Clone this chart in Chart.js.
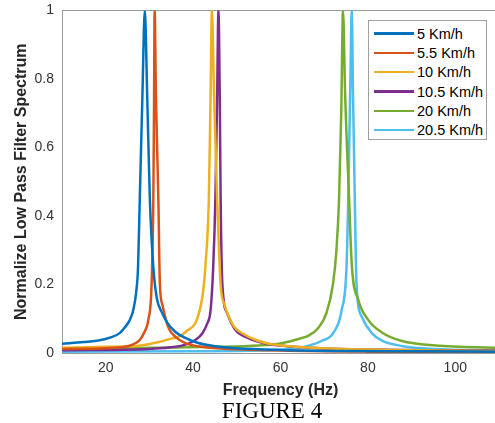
<!DOCTYPE html>
<html>
<head>
<meta charset="utf-8">
<script src="https://cdn.jsdelivr.net/npm/chart.js"></script>
<style>
    html, body { margin: 0; padding: 0; background: #fff; overflow: hidden; }
    #wrap { position: relative; width: 502px; height: 423px; }
    #chart-box { position: absolute; left: 0; top: -6px; width: 502px; height: 408px; }
    #legend {
        position: absolute; left: 368px; top: 20px; width: 119px; height: 120px;
        border: 1px solid #a0a0a0; background: #fff;
        font: 14.5px "Liberation Sans", Arial, sans-serif; color: #000;
        padding-top: 3px; box-sizing: border-box;
    }
    #legend .row { height: 19.3px; display: flex; align-items: center; }
    #legend .swatch { width: 40px; height: 2.5px; margin-left: 5px; margin-right: 3px; }
    #caption {
        position: absolute; left: 0; top: 397px; width: 544px; text-align: center;
        font: 23px "Liberation Serif", "Times New Roman", serif; color: #000; line-height: 27px;
    }
</style>
</head>
<body>
<div id="wrap">
    <div id="chart-box"><canvas id="spectrum-chart"></canvas></div>
    <div id="legend"></div>
    <div id="caption">FIGURE 4</div>
</div>
<script>
// speed labels
const labels = ['5 Km/h', '5.5 Km/h', '10 Km/h', '10.5 Km/h', '20 Km/h', '20.5 Km/h'];
const colors = ['#0072BD', '#D95319', '#EDB120', '#7E2F8E', '#77AC30', '#4DBEEE'];

// frequency (Hz) / normalized spectrum
const freq5 = [10, 15, 18, 21, 23.2, 24.4, 25.5, 26.3, 27, 27.4, 27.8, 28.4, 28.95, 29.5, 30.1, 30.9, 31.7, 32.8, 34, 35.9, 38.2, 41, 45, 50, 60, 75, 90, 110];
const spec5 = [0.027, 0.032, 0.036, 0.045, 0.058, 0.075, 0.096, 0.125, 0.18, 0.25, 0.45, 0.75, 1.0, 0.75, 0.45, 0.25, 0.16, 0.12, 0.09, 0.062, 0.044, 0.03, 0.02, 0.014, 0.009, 0.006, 0.005, 0.004];

const freq55 = [10, 20, 24.4, 26, 27.8, 29, 29.75, 30.5, 30.9, 31.05, 31.2, 31.5, 32.05, 32.4, 33, 33.6, 34.5, 35.9, 38.2, 42, 50, 60, 80, 110];
const spec55 = [0.012, 0.014, 0.018, 0.024, 0.038, 0.065, 0.096, 0.2, 0.45, 0.7, 1.0, 0.75, 0.45, 0.2, 0.14, 0.106, 0.07, 0.048, 0.029, 0.018, 0.011, 0.007, 0.004, 0.003];

const freq10 = [10, 20, 28, 32.4, 35, 37.1, 38.6, 40.5, 41.7, 42.3, 42.8, 43.6, 44, 44.3, 44.8, 45.5, 46.3, 47.2, 48.2, 49.5, 51.3, 54.4, 57.1, 62, 70, 85, 110];
const spec10 = [0.015, 0.018, 0.022, 0.033, 0.042, 0.05, 0.065, 0.087, 0.135, 0.18, 0.25, 0.45, 0.75, 1.0, 0.75, 0.45, 0.2, 0.14, 0.106, 0.075, 0.057, 0.038, 0.028, 0.02, 0.014, 0.009, 0.006];

const freq105 = [10, 30, 36, 38.6, 40.5, 42.1, 43.2, 44, 44.6, 45.1, 45.5, 45.8, 46.1, 46.3, 46.7, 47.8, 49.7, 52.4, 54.4, 57.1, 63.2, 70, 80, 95, 110];
const spec105 = [0.008, 0.012, 0.018, 0.026, 0.038, 0.057, 0.085, 0.125, 0.25, 0.45, 0.75, 1.0, 0.75, 0.45, 0.2, 0.116, 0.067, 0.045, 0.035, 0.026, 0.018, 0.013, 0.01, 0.008, 0.007];

const freq20 = [10, 30, 45, 55, 60, 64.7, 66.3, 68.6, 70.5, 72, 72.8, 73.4, 73.9, 74.3, 74.8, 75.7, 76.3, 77.8, 80.1, 83.2, 87.8, 95.5, 110];
const spec20 = [0.012, 0.015, 0.018, 0.022, 0.028, 0.043, 0.05, 0.072, 0.116, 0.2, 0.3, 0.45, 0.7, 1.0, 0.75, 0.45, 0.26, 0.155, 0.096, 0.06, 0.035, 0.022, 0.015];

const freq205 = [10, 40, 55, 62, 66, 69.35, 72.05, 74, 75.1, 75.5, 76, 76.3, 76.6, 77, 77.4, 78.6, 80.9, 83.2, 88, 95, 110];
const spec205 = [0.004, 0.005, 0.007, 0.012, 0.02, 0.035, 0.058, 0.125, 0.25, 0.45, 0.8, 1.0, 0.75, 0.45, 0.2, 0.106, 0.058, 0.036, 0.02, 0.012, 0.008];

const xTicks = [20, 40, 60, 80, 100];
const yTicks = [0, 0.2, 0.4, 0.6, 0.8, 1];

const series = [
    [freq5, spec5], [freq55, spec55], [freq10, spec10],
    [freq105, spec105], [freq20, spec20], [freq205, spec205]
];

Chart.defaults.font.family = '"Liberation Sans", Arial, sans-serif';
Chart.defaults.color = '#333';

const datasets = series.map(function(s, i) {
    return {
        label: labels[i],
        data: s[0].map(function(f, k) { return {x: f, y: s[1][k]}; }),
        borderColor: colors[i],
        backgroundColor: colors[i],
        borderWidth: 2.5,
        pointRadius: 0,
        cubicInterpolationMode: 'monotone'
    };
});

const axisGrey = '#9a9a9a';

const myChart = new Chart(document.getElementById('spectrum-chart'), {
    type: 'line',
    data: { datasets: datasets },
    options: {
        responsive: true,
        maintainAspectRatio: false,
        animation: false,
        layout: { padding: { top: 4, right: 3, left: 0, bottom: 2 } },
        plugins: {
            legend: { display: false },
            tooltip: { enabled: false }
        },
        scales: {
            x: {
                type: 'linear',
                min: 10,
                max: 110,
                afterBuildTicks: function(scale) {
                    scale.ticks = xTicks.map(function(v) { return {value: v}; });
                },
                afterFit: function(scale) { scale.height = 47; },
                grid: { display: false, drawTicks: false },
                border: { display: true, color: axisGrey, width: 1 },
                ticks: { padding: 7, font: { size: 14 }, color: '#333', maxRotation: 0 },
                title: {
                    display: true,
                    text: 'Frequency (Hz)',
                    font: { size: 16, weight: 'bold' },
                    color: '#262626',
                    padding: { top: 0, bottom: 0 }
                }
            },
            xTop: {
                type: 'linear',
                position: 'top',
                min: 10,
                max: 110,
                afterFit: function(scale) { scale.height = 0; },
                grid: { display: false, drawTicks: false },
                border: { display: true, color: axisGrey, width: 1 },
                ticks: { display: false }
            },
            y: {
                min: 0,
                max: 1,
                afterBuildTicks: function(scale) {
                    scale.ticks = yTicks.map(function(v) { return {value: v}; });
                },
                afterFit: function(scale) { scale.width = 62; },
                grid: { display: false, drawTicks: false },
                border: { display: true, color: axisGrey, width: 1 },
                ticks: {
                    padding: 8,
                    font: { size: 14 },
                    color: '#333',
                    callback: function(v) { return String(+v.toFixed(1)); }
                },
                title: {
                    display: true,
                    text: 'Normalize Low Pass Filter Spectrum',
                    font: { size: 16, weight: 'bold' },
                    color: '#262626',
                    padding: { top: 12, bottom: 0 }
                }
            },
            yRight: {
                position: 'right',
                min: 0,
                max: 1,
                afterFit: function(scale) { scale.width = 0; },
                grid: { display: false, drawTicks: false },
                border: { display: true, color: axisGrey, width: 1 },
                ticks: { display: false }
            }
        }
    }
});

// legend box inside the axes, built from the datasets
const legendEl = document.getElementById('legend');
myChart.data.datasets.forEach(function(ds) {
    const row = document.createElement('div');
    row.className = 'row';
    const sw = document.createElement('span');
    sw.className = 'swatch';
    sw.style.background = ds.borderColor;
    const txt = document.createElement('span');
    txt.textContent = ds.label;
    row.appendChild(sw);
    row.appendChild(txt);
    legendEl.appendChild(row);
});
</script>
</body>
</html>
